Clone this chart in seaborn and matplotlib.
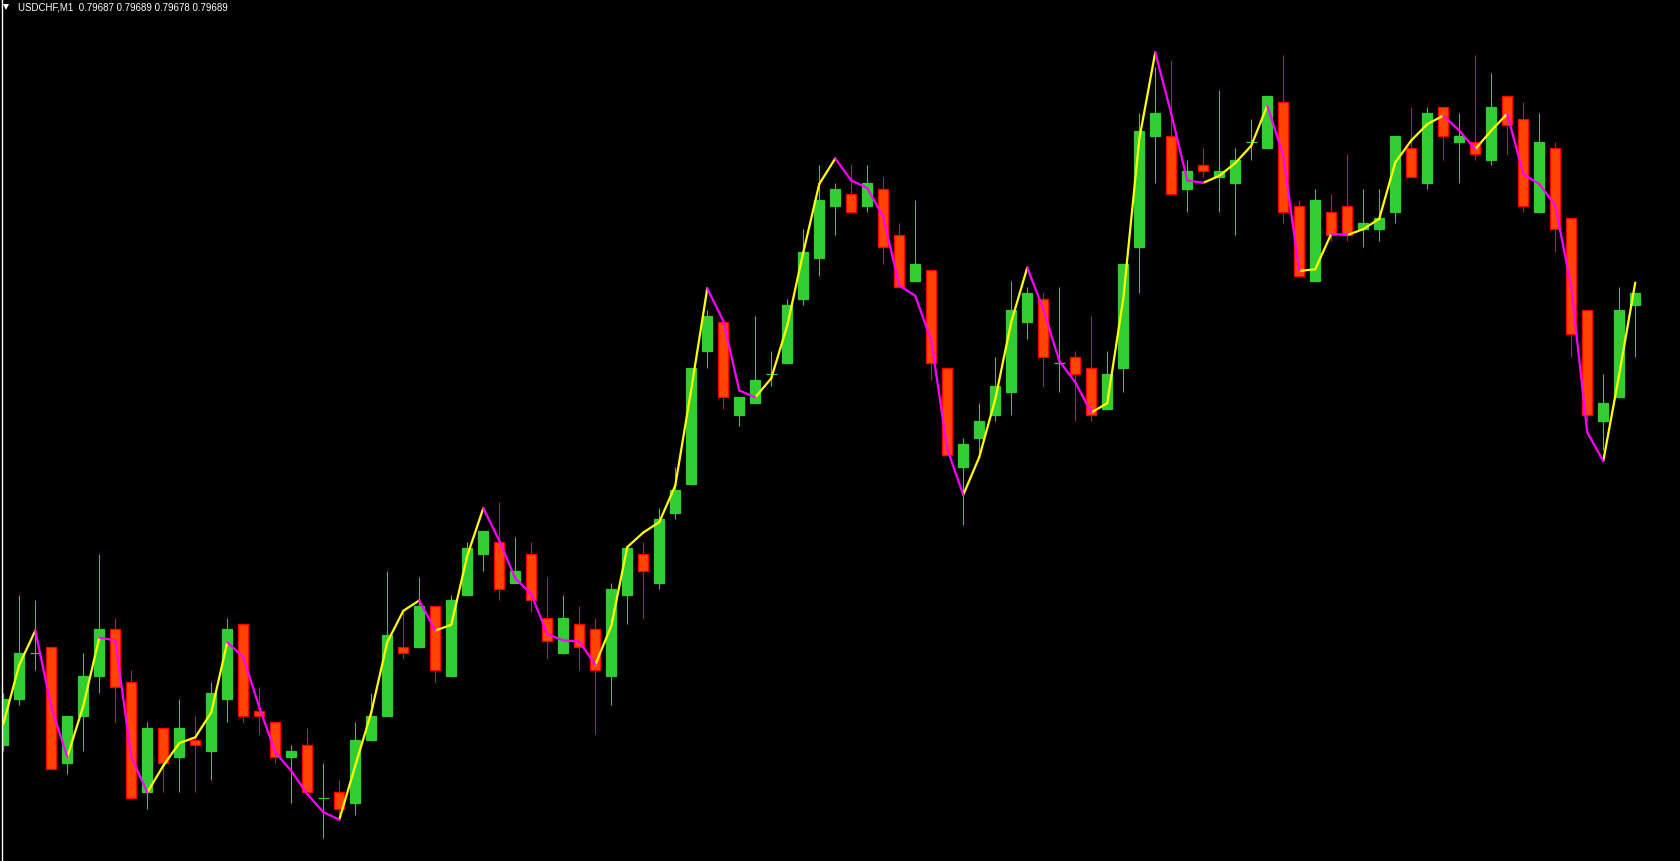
import numpy as np
import pandas as pd
import matplotlib
matplotlib.use("Agg")
import matplotlib.pyplot as plt
import seaborn as sns
from matplotlib.lines import Line2D

symbol = "USDCHF,M1"

opens = [0.79611, 0.79619, 0.79627, 0.79628, 0.79608, 0.79616, 0.79623, 0.79631, 0.79622, 0.79603,
         0.79614, 0.79609, 0.79612, 0.79610, 0.79619, 0.79632, 0.79617, 0.79615, 0.79609, 0.79611,
         0.79602, 0.79603, 0.79601, 0.79612, 0.79616, 0.79628, 0.79628, 0.79635, 0.79623, 0.79637,
         0.79644, 0.79646, 0.79639, 0.79644, 0.79633, 0.79627, 0.79632, 0.79631, 0.79623, 0.79637,
         0.79644, 0.79639, 0.79651, 0.79656, 0.79679, 0.79684, 0.79668, 0.79670, 0.79675, 0.79677,
         0.79688, 0.79695, 0.79704, 0.79706, 0.79704, 0.79707, 0.79699, 0.79691, 0.79693, 0.79676,
         0.79659, 0.79664, 0.79668, 0.79672, 0.79684, 0.79688, 0.79677, 0.79678, 0.79676, 0.79669,
         0.79676, 0.79697, 0.79716, 0.79716, 0.79707, 0.79711, 0.79709, 0.79708, 0.79715, 0.79714,
         0.79722, 0.79704, 0.79691, 0.79703, 0.79704, 0.79700, 0.79700, 0.79703, 0.79714, 0.79708,
         0.79721, 0.79715, 0.79715, 0.79712, 0.79723, 0.79719, 0.79703, 0.79714, 0.79702, 0.79686,
         0.79667, 0.79671, 0.79687]

highs = [0.79620, 0.79637, 0.79636, 0.79628, 0.79616, 0.79627, 0.79644, 0.79633, 0.79624, 0.79615,
         0.79614, 0.79619, 0.79616, 0.79622, 0.79633, 0.79632, 0.79621, 0.79615, 0.79611, 0.79614,
         0.79608, 0.79605, 0.79615, 0.79620, 0.79641, 0.79634, 0.79640, 0.79635, 0.79637, 0.79646,
         0.79648, 0.79653, 0.79647, 0.79646, 0.79640, 0.79637, 0.79635, 0.79633, 0.79639, 0.79645,
         0.79646, 0.79652, 0.79659, 0.79676, 0.79686, 0.79684, 0.79671, 0.79685, 0.79679, 0.79688,
         0.79700, 0.79711, 0.79708, 0.79711, 0.79711, 0.79709, 0.79701, 0.79705, 0.79693, 0.79676,
         0.79664, 0.79670, 0.79678, 0.79691, 0.79690, 0.79689, 0.79690, 0.79679, 0.79685, 0.79679,
         0.79694, 0.79720, 0.79728, 0.79729, 0.79712, 0.79714, 0.79724, 0.79714, 0.79719, 0.79723,
         0.79730, 0.79705, 0.79707, 0.79706, 0.79713, 0.79707, 0.79707, 0.79716, 0.79721, 0.79721,
         0.79721, 0.79720, 0.79730, 0.79727, 0.79723, 0.79722, 0.79720, 0.79715, 0.79702, 0.79686,
         0.79675, 0.79690, 0.79689]

lows = [0.79610, 0.79618, 0.79624, 0.79607, 0.79606, 0.79610, 0.79620, 0.79615, 0.79602, 0.79600,
        0.79603, 0.79603, 0.79603, 0.79605, 0.79615, 0.79615, 0.79613, 0.79608, 0.79601, 0.79603,
        0.79595, 0.79598, 0.79599, 0.79612, 0.79616, 0.79626, 0.79628, 0.79622, 0.79623, 0.79637,
        0.79641, 0.79636, 0.79639, 0.79634, 0.79626, 0.79627, 0.79624, 0.79613, 0.79618, 0.79632,
        0.79633, 0.79638, 0.79650, 0.79656, 0.79676, 0.79669, 0.79666, 0.79670, 0.79673, 0.79677,
        0.79687, 0.79692, 0.79699, 0.79703, 0.79703, 0.79694, 0.79690, 0.79691, 0.79674, 0.79661,
        0.79649, 0.79661, 0.79667, 0.79668, 0.79681, 0.79673, 0.79672, 0.79667, 0.79667, 0.79669,
        0.79672, 0.79689, 0.79708, 0.79706, 0.79703, 0.79709, 0.79703, 0.79699, 0.79712, 0.79714,
        0.79701, 0.79692, 0.79691, 0.79698, 0.79698, 0.79697, 0.79698, 0.79701, 0.79709, 0.79707,
        0.79712, 0.79708, 0.79712, 0.79711, 0.79713, 0.79703, 0.79703, 0.79696, 0.79678, 0.79667,
        0.79662, 0.79671, 0.79678]

closes = [0.79619, 0.79627, 0.79627, 0.79607, 0.79616, 0.79623, 0.79631, 0.79621, 0.79602, 0.79614,
          0.79608, 0.79614, 0.79611, 0.79620, 0.79631, 0.79616, 0.79616, 0.79609, 0.79610, 0.79603,
          0.79602, 0.79600, 0.79612, 0.79616, 0.79630, 0.79627, 0.79635, 0.79624, 0.79636, 0.79645,
          0.79648, 0.79638, 0.79641, 0.79636, 0.79629, 0.79633, 0.79628, 0.79624, 0.79638, 0.79645,
          0.79641, 0.79650, 0.79655, 0.79676, 0.79685, 0.79671, 0.79671, 0.79674, 0.79675, 0.79687,
          0.79696, 0.79705, 0.79707, 0.79703, 0.79708, 0.79697, 0.79690, 0.79694, 0.79677, 0.79661,
          0.79663, 0.79667, 0.79673, 0.79686, 0.79689, 0.79678, 0.79677, 0.79675, 0.79668, 0.79675,
          0.79694, 0.79717, 0.79720, 0.79706, 0.79710, 0.79710, 0.79710, 0.79712, 0.79715, 0.79723,
          0.79703, 0.79692, 0.79705, 0.79699, 0.79699, 0.79701, 0.79702, 0.79716, 0.79709, 0.79720,
          0.79716, 0.79716, 0.79713, 0.79721, 0.79718, 0.79704, 0.79715, 0.79700, 0.79682, 0.79668,
          0.79670, 0.79686, 0.79689]

# indicator line (yellow when rising, magenta when falling)
signal = [0.796147, 0.796249, 0.796308, 0.796176, 0.796090, 0.796178, 0.796296, 0.796291, 0.796090, 0.796029,
          0.796075, 0.796114, 0.796124, 0.796167, 0.796288, 0.796262, 0.796176, 0.796098, 0.796066, 0.796026,
          0.795995, 0.795982, 0.796075, 0.796167, 0.796288, 0.796342, 0.796360, 0.796308, 0.796318, 0.796437,
          0.796519, 0.796463, 0.796398, 0.796371, 0.796302, 0.796291, 0.796289, 0.796249, 0.796316, 0.796452,
          0.796477, 0.796495, 0.796558, 0.796724, 0.796898, 0.796842, 0.796722, 0.796710, 0.796743, 0.796834,
          0.796960, 0.797078, 0.797122, 0.797084, 0.797071, 0.797021, 0.796903, 0.796885, 0.796808, 0.796621,
          0.796542, 0.796607, 0.796707, 0.796840, 0.796934, 0.796862, 0.796773, 0.796736, 0.796684, 0.796700,
          0.796880, 0.797155, 0.797305, 0.797199, 0.797084, 0.797080, 0.797092, 0.797114, 0.797144, 0.797213,
          0.797127, 0.796928, 0.796931, 0.796992, 0.796990, 0.797000, 0.797018, 0.797115, 0.797153, 0.797181,
          0.797196, 0.797170, 0.797138, 0.797170, 0.797199, 0.797095, 0.797078, 0.797041, 0.796900, 0.796650,
          0.796600, 0.796750, 0.796908]

UP_BODY, UP_BAR = "#32CD32", "#32CD32"
DN_BODY, DN_BAR = "#FF4500", "#FF0000"

df = pd.DataFrame({"open": opens, "high": highs, "low": lows, "close": closes})
df["x"] = np.arange(len(df))
df["up"] = df["close"] >= df["open"]

# two-point segments for the coloured line
rows = []
for i in range(len(signal) - 1):
    trend = "up" if signal[i + 1] > signal[i] else "down"
    rows.append({"x": i, "y": signal[i], "seg": i, "trend": trend})
    rows.append({"x": i + 1, "y": signal[i + 1], "seg": i, "trend": trend})
seg_df = pd.DataFrame(rows)

sns.set_theme(style="dark", rc={"axes.facecolor": "black", "figure.facecolor": "black",
                                "axes.grid": False})
plt.rcParams["font.family"] = ["Liberation Sans", "DejaVu Sans"]

W, H = 1681, 862
fig = plt.figure(figsize=(W / 100, H / 100), dpi=100)
ax = fig.add_axes([2 / W, 0, 1 - 2 / W, 1])

wick_col = np.where(df["up"], UP_BAR, DN_BAR)
ax.vlines(df["x"], df["low"], df["high"], colors=wick_col, linewidth=0.8, zorder=1)

body = df[df["close"] != df["open"]]
ax.bar(body["x"], body["close"] - body["open"], bottom=body["open"], width=0.62,
       color=np.where(body["up"], UP_BODY, DN_BODY),
       edgecolor=np.where(body["up"], UP_BAR, DN_BAR), linewidth=0.9, zorder=2)

doji = df[df["close"] == df["open"]]
ax.hlines(doji["open"], doji["x"] - 0.33, doji["x"] + 0.33, colors=UP_BAR, linewidth=0.9, zorder=2)

sns.lineplot(data=seg_df, x="x", y="y", hue="trend", units="seg", estimator=None, sort=False,
             palette={"up": "#FFFF00", "down": "#FF00FF"}, linewidth=1.6, legend=False,
             ax=ax, zorder=3)

ax.set_xlim(-0.081, 104.86)
ax.set_ylim(0.7959107, 0.7973969)
ax.set_xticks([])
ax.set_yticks([])
ax.set_xlabel("")
ax.set_ylabel("")
for side in ["top", "right", "bottom"]:
    ax.spines[side].set_visible(False)
ax.spines["left"].set_color("white")
ax.spines["left"].set_linewidth(1.0)

fig.add_artist(Line2D([6.3 / W], [1 - 7.5 / H], marker="v", markersize=4.2, color="white",
                      markeredgewidth=0, transform=fig.transFigure))
title = f"{symbol}  {opens[-1]:.5f} {highs[-1]:.5f} {lows[-1]:.5f} {closes[-1]:.5f}"
fig.text(18 / W, 1 - 11 / H, title, color="white", fontsize=7, va="baseline", ha="left")

fig.savefig("out.png", dpi=100, facecolor="black")
